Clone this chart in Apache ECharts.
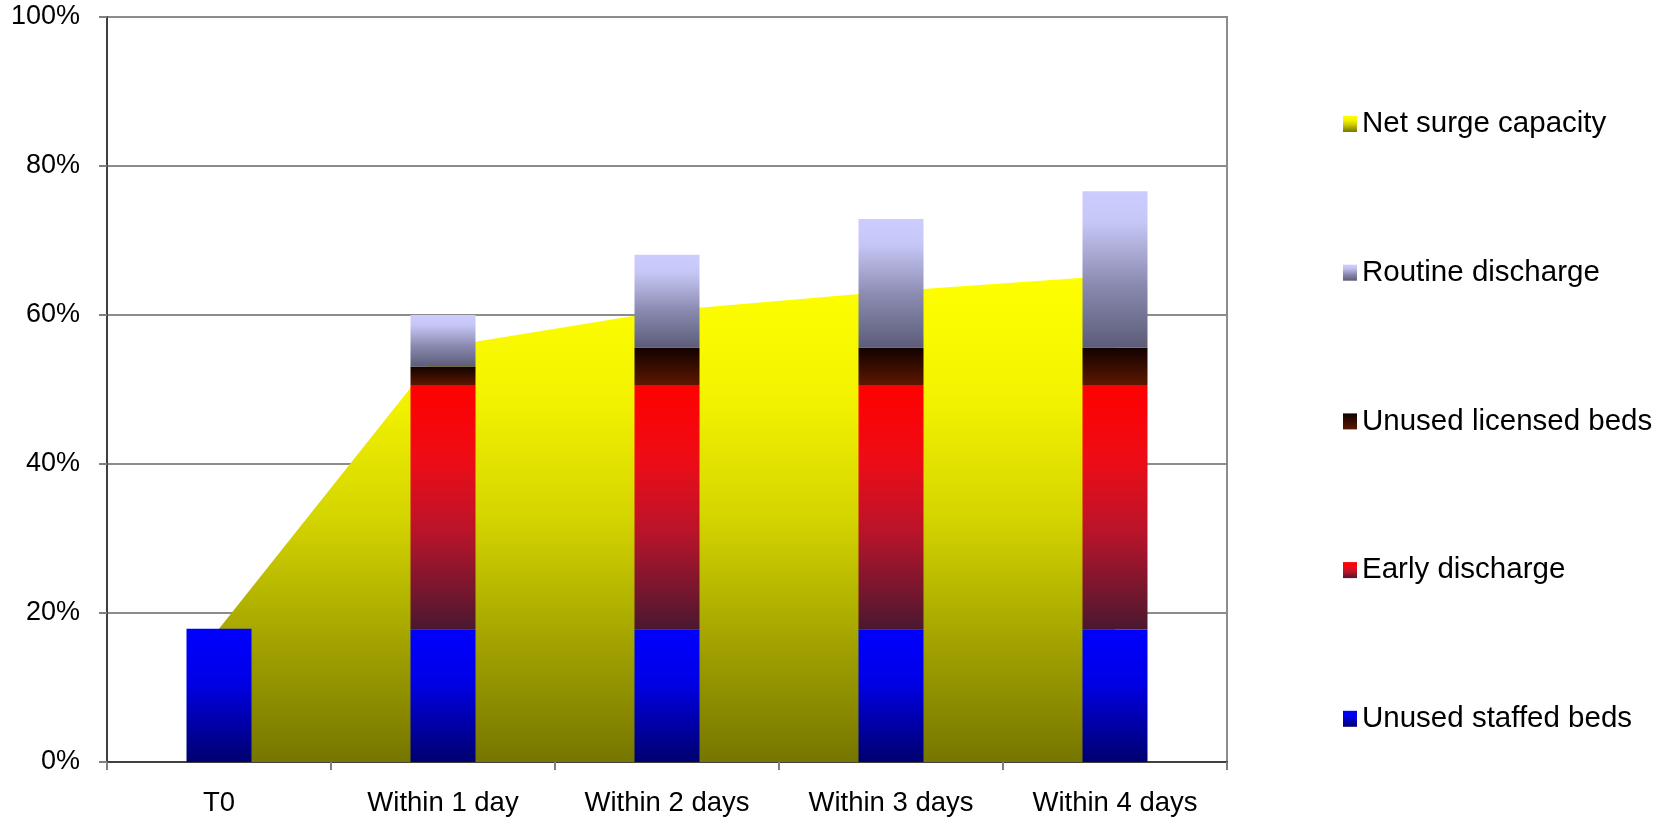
<!DOCTYPE html>
<html>
<head>
<meta charset="utf-8">
<title>Surge capacity</title>
<script src="https://cdn.jsdelivr.net/npm/echarts@6/dist/echarts.min.js"></script>
<style>
  html, body { margin: 0; padding: 0; background: #fff; }
  #chart { width: 1672px; height: 819px; }
</style>
</head>
<body>
<div id="chart"></div>
<script>
// Categories and tick labels
const categories = ['T0', 'Within 1 day', 'Within 2 days', 'Within 3 days', 'Within 4 days'];
const yTicks = [0, 20, 40, 60, 80, 100];

// Stacked bar components (percent of beds)
const unusedStaffedBeds = [17.9, 17.8, 17.8, 17.8, 17.8];
const earlyDischarge = [null, 32.8, 32.8, 32.8, 32.8];
const unusedLicensedBeds = [null, 2.5, 5.0, 5.0, 5.0];
const routineDischarge = [null, 6.9, 12.5, 17.3, 21.0];

// Area: net surge capacity (percent)
const netSurgeCapacity = [17.9, 55.7, 60.6, 63.2, 65.3];

const FONT = "'Liberation Sans', Arial, Helvetica, sans-serif";

function vGrad(stops) {
  return new echarts.graphic.LinearGradient(0, 0, 0, 1,
    stops.map(([offset, color]) => ({ offset, color })));
}

const gradYellow = vGrad([[0, '#ffff00'], [0.25, '#f3f300'], [0.5, '#d4d400'], [0.75, '#a3a300'], [1, '#767600']]);
const gradBlue = vGrad([[0, '#0000ff'], [0.4, '#0000e6'], [1, '#00006e']]);
const gradRed = vGrad([[0, '#ff0000'], [0.3, '#ee0c16'], [0.6, '#b9142a'], [1, '#4a1830']]);
const gradBrown = vGrad([[0, '#120200'], [1, '#5c1800']]);
const gradLilac = vGrad([[0, '#ccccff'], [0.2, '#c6c6f6'], [0.6, '#8a8ab0'], [1, '#5c5c78']]);

const chart = echarts.init(document.getElementById('chart'), null, { renderer: 'canvas' });

const barBase = {
  type: 'bar',
  stack: 'beds',
  barWidth: 65,
  z: 3,
  emphasis: { disabled: true }
};

chart.setOption({
  animation: false,
  backgroundColor: '#ffffff',
  textStyle: { fontFamily: FONT },
  grid: {
    left: 107, top: 17, right: 445, bottom: 57,
    show: true, borderColor: '#8c8c8c', borderWidth: 2, backgroundColor: 'transparent'
  },
  legend: {
    orient: 'vertical',
    left: 1338,
    top: 104,
    itemWidth: 14,
    itemHeight: 16,
    itemGap: 118.7,
    icon: 'rect',
    selectedMode: false,
    itemStyle: { borderWidth: 0 },
    textStyle: { fontFamily: FONT, fontSize: 29.5, color: '#000', lineHeight: 30 },
    data: [
      { name: 'Net surge capacity', icon: 'rect', itemStyle: { color: gradYellow, borderWidth: 0 } },
      { name: 'Routine discharge' },
      { name: 'Unused licensed beds' },
      { name: 'Early discharge' },
      { name: 'Unused staffed beds' }
    ]
  },
  xAxis: {
    type: 'category',
    data: categories,
    boundaryGap: true,
    axisLine: { show: true, lineStyle: { color: '#404040', width: 2 } },
    axisTick: { show: true, length: 8, lineStyle: { color: '#808080', width: 2 } },
    axisLabel: { fontFamily: FONT, fontSize: 27.5, color: '#000', margin: 27 },
    splitLine: { show: false }
  },
  yAxis: {
    type: 'value',
    min: yTicks[0],
    max: yTicks[yTicks.length - 1],
    interval: yTicks[1] - yTicks[0],
    axisLine: { show: true, lineStyle: { color: '#404040', width: 2 } },
    axisTick: { show: true, length: 8, lineStyle: { color: '#808080', width: 2 } },
    axisLabel: { fontFamily: FONT, fontSize: 27, color: '#000', margin: 27, formatter: '{value}%' },
    splitLine: { show: true, lineStyle: { color: '#8c8c8c', width: 2 } }
  },
  series: [
    {
      name: 'Net surge capacity',
      type: 'line',
      data: netSurgeCapacity,
      z: 1,
      symbol: 'none',
      smooth: false,
      lineStyle: { width: 0, color: '#ffff00' },
      itemStyle: { color: gradYellow },
      areaStyle: { color: gradYellow, opacity: 1 },
      emphasis: { disabled: true }
    },
    Object.assign({}, barBase, { name: 'Unused staffed beds', data: unusedStaffedBeds, itemStyle: { color: gradBlue } }),
    Object.assign({}, barBase, { name: 'Early discharge', data: earlyDischarge, itemStyle: { color: gradRed } }),
    Object.assign({}, barBase, { name: 'Unused licensed beds', data: unusedLicensedBeds, itemStyle: { color: gradBrown } }),
    Object.assign({}, barBase, { name: 'Routine discharge', data: routineDischarge, itemStyle: { color: gradLilac } })
  ]
});
</script>
</body>
</html>
